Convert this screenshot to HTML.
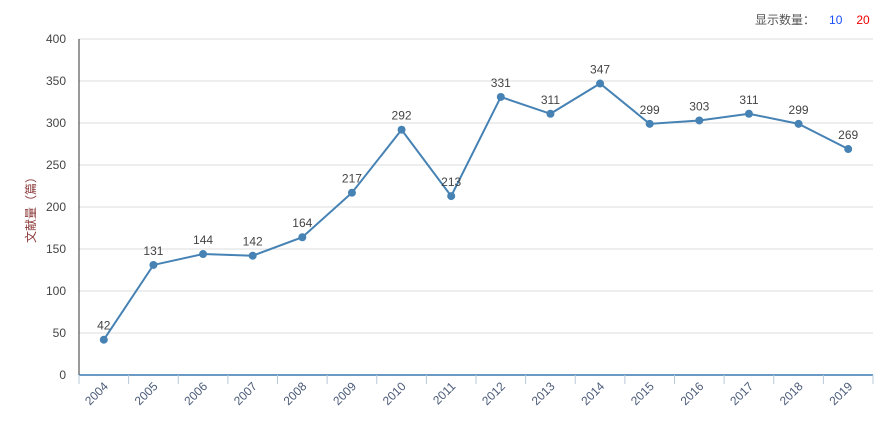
<!DOCTYPE html>
<html><head><meta charset="utf-8"><style>
body{margin:0;background:#fff;width:890px;height:431px;overflow:hidden;font-family:"Liberation Sans","Noto Sans CJK SC",sans-serif}
#top{position:absolute;left:755px;top:11px;font-size:12px;color:#555}
#top span{margin-left:14px}
</style></head><body>
<div id="top">显示数量：<span style="color:#1a4fff">10</span><span style="color:#e00">20</span></div>
<svg id="c" width="890" height="431" style="position:absolute;left:0;top:0"></svg>
<script>
const categories=["2004","2005","2006","2007","2008","2009","2010","2011","2012","2013","2014","2015","2016","2017","2018","2019"];
const values=[42,131,144,142,164,217,292,213,331,311,347,299,303,311,299,269];
const yTicks=[0,50,100,150,200,250,300,350,400];
const NS="http://www.w3.org/2000/svg",svg=document.getElementById('c');
const L=79,R=873,T=39,B=375,yMax=400;
const band=(R-L)/categories.length;
const x=i=>L+band*(i+0.5);
const y=v=>B-(v/yMax)*(B-T);
function mk(t,a,p){const e=document.createElementNS(NS,t);for(const k in a)e.setAttribute(k,a[k]);(p||svg).appendChild(e);return e;}
yTicks.forEach(v=>{
 if(v>0){const g=mk('line',{x1:L,x2:R,y1:y(v),y2:y(v),stroke:'#ddd'});
 
 }
 const t=mk('text',{x:66,y:y(v)+4,'text-anchor':'end','font-size':12,fill:'#444'});t.textContent=v;
 
 
});
const ya=mk('line',{x1:L,x2:L,y1:T,y2:B,stroke:'#333'});


const xa=mk('line',{x1:L,x2:R,y1:B,y2:B,stroke:'#3a7ab0','stroke-width':1.5});


const yt=mk('text',{transform:'translate(35,207) rotate(-90)','text-anchor':'middle','font-size':12,fill:'#8b3a3a'});yt.textContent='文献量（篇）';


for(let i=0;i<=categories.length;i++){const tk=mk('line',{x1:L+band*i,x2:L+band*i,y1:B,y2:B+9,stroke:'#b8c8d8'});
 
 }
categories.forEach((c,i)=>{
 const t=mk('text',{transform:`translate(${x(i)+5},${B+12}) rotate(-45)`,'text-anchor':'end','font-size':12,fill:'#4a5a78'});t.textContent=c;
 
 
});
const line=mk('polyline',{points:values.map((v,i)=>x(i)+','+y(v)).join(' '),fill:'none',stroke:'#4682b4','stroke-width':2});


values.forEach((v,i)=>{
 const p=mk('circle',{cx:x(i),cy:y(v),r:4,fill:'#4682b4'});
 
 
 const t=mk('text',{x:x(i),y:y(v)-10,'text-anchor':'middle','font-size':12,fill:'#444'});t.textContent=v;
 
 
});
</script>
</body></html>
